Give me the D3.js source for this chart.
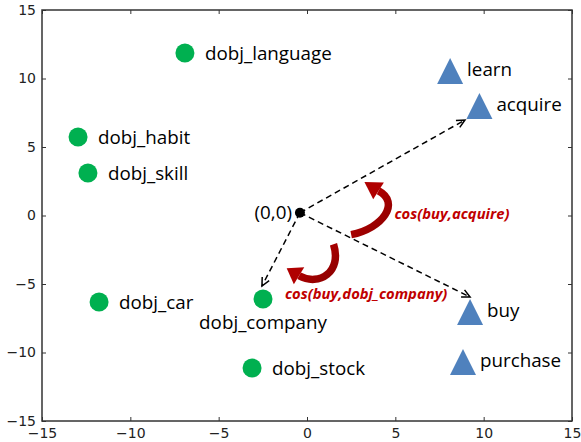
<!DOCTYPE html>
<html><head><meta charset="utf-8">
<script src="https://cdn.jsdelivr.net/npm/d3@7"></script>
<style>body{margin:0;background:#fff}svg{display:block}</style>
</head><body>
<svg id="c" width="581" height="442"></svg>
<script>
const xTicks = [-15,-10,-5,0,5,10,15];
const yTicks = [-15,-10,-5,0,5,10,15];
const circleWords = ["dobj_language","dobj_habit","dobj_skill","dobj_car","dobj_company","dobj_stock"];
const circleX = [-6.91,-12.96,-12.40,-11.77,-2.49,-3.11];
const circleY = [11.86,5.73,3.10,-6.31,-6.09,-11.13];
const triWords = ["learn","acquire","buy","purchase"];
const triX = [8.10,9.76,9.23,8.83];
const triY = [10.55,7.99,-7.04,-10.69];
const origin = [-0.40, 0.20];
const arrowTo = [[8.94,6.97],[9.23,-5.95],[-2.55,-5.15]];
const cosLabels = ["cos(buy,acquire)","cos(buy,dobj_company)"];
const cosPos = [[4.95,-0.22],[-1.25,-6.1]];
// curved red arrows in data units: tail, c1, c2, end, tip
const curves = [
  [[2.50,-1.40],[4.30,-0.95],[5.30,0.95],[4.05,1.80],[3.25,2.45]],
  [[1.50,-2.10],[2.00,-4.10],[0.70,-5.20],[-0.45,-4.40],[-1.15,-3.85]]
];

const svg = d3.select("#c");
const L=42,R=572,T=10,B=421;
const x = d3.scaleLinear().domain([-15,15]).range([L,R]);
const y = d3.scaleLinear().domain([-15,15]).range([B,T]);

const defs = svg.append("defs");
const grad = defs.append("linearGradient").attr("id","rg").attr("x1","0").attr("y1","0").attr("x2","1").attr("y2","1");
grad.append("stop").attr("offset","0").attr("stop-color","#c00000");
grad.append("stop").attr("offset","1").attr("stop-color","#8b0000");

// axes with inward ticks
const tickFont = "DejaVu Sans";
svg.append("g").attr("transform",`translate(0,${B})`)
  .call(d3.axisBottom(x).tickValues(xTicks).tickSize(-4).tickPadding(7).tickFormat(d=>d<0?"\u2212"+(-d):d))
  .call(g=>{g.select(".domain").remove();g.selectAll("text").attr("font-family",tickFont).attr("font-size",14).attr("fill","#222");g.selectAll("line").attr("stroke","#333");});
svg.append("g").attr("transform",`translate(0,${T})`)
  .call(d3.axisTop(x).tickValues(xTicks).tickSize(-4).tickFormat(""))
  .call(g=>{g.select(".domain").remove();g.selectAll("line").attr("stroke","#333");});
svg.append("g").attr("transform",`translate(${L},0)`)
  .call(d3.axisLeft(y).tickValues(yTicks).tickSize(-4).tickPadding(6).tickFormat(d=>d<0?"\u2212"+(-d):d))
  .call(g=>{g.select(".domain").remove();g.selectAll("text").attr("font-family",tickFont).attr("font-size",14).attr("fill","#222");g.selectAll("line").attr("stroke","#333");});
svg.append("g").attr("transform",`translate(${R},0)`)
  .call(d3.axisRight(y).tickValues(yTicks).tickSize(-4).tickFormat(""))
  .call(g=>{g.select(".domain").remove();g.selectAll("line").attr("stroke","#333");});
svg.append("rect").attr("x",L).attr("y",T).attr("width",R-L).attr("height",B-T)
  .attr("fill","none").attr("stroke","#333").attr("stroke-width",1.5);

const lblFont = "Open Sans";
const lblSize = 18.8;

// dashed arrows
arrowTo.forEach(p=>{
  const x0=x(origin[0]),y0=y(origin[1]),x1=x(p[0]),y1=y(p[1]);
  svg.append("line").attr("x1",x0).attr("y1",y0).attr("x2",x1).attr("y2",y1)
    .attr("stroke","#000").attr("stroke-width",1.5).attr("stroke-dasharray","6,4");
  const a=Math.atan2(y1-y0,x1-x0), h=9, w=0.45;
  const pa=[x1-h*Math.cos(a-w),y1-h*Math.sin(a-w)], pb=[x1-h*Math.cos(a+w),y1-h*Math.sin(a+w)];
  svg.append("path").attr("d",`M${pa}L${x1},${y1}L${pb}`).attr("fill","none").attr("stroke","#000").attr("stroke-width",1.5);
});

// origin
svg.append("circle").attr("cx",x(origin[0])).attr("cy",y(origin[1])).attr("r",5).attr("fill","#000");
svg.append("text").attr("x",x(origin[0])-8).attr("y",y(origin[1])+6).attr("text-anchor","end")
  .attr("font-family",lblFont).attr("font-size",lblSize).attr("fill","#000").text("(0,0)");

// curved red arrows
curves.forEach(c=>{
  const P=c.map(p=>[x(p[0]),y(p[1])]);
  svg.append("path").attr("d",`M${P[0]}C${P[1]} ${P[2]} ${P[3]}`).attr("fill","none")
    .attr("stroke","url(#rg)").attr("stroke-width",7.5);
  const e=P[3],t=P[4];
  const a=Math.atan2(t[1]-e[1],t[0]-e[0]);
  const hw=10;
  const b1=[e[0]+hw*Math.cos(a+Math.PI/2),e[1]+hw*Math.sin(a+Math.PI/2)];
  const b2=[e[0]-hw*Math.cos(a+Math.PI/2),e[1]-hw*Math.sin(a+Math.PI/2)];
  svg.append("path").attr("d",`M${b1}L${t}L${b2}Z`).attr("fill","#b00000");
});
cosLabels.forEach((t,i)=>{
  svg.append("text").attr("x",x(cosPos[i][0])).attr("y",y(cosPos[i][1]))
    .attr("font-family",lblFont).attr("font-size",14.8).attr("font-style","italic").attr("font-weight","bold")
    .attr("fill","#c00000").text(t);
});

// circles
circleWords.forEach((w,i)=>{
  const cx=x(circleX[i]), cy=y(circleY[i]);
  svg.append("circle").attr("cx",cx).attr("cy",cy).attr("r",9.5).attr("fill","#00b050");
  const t=svg.append("text").attr("font-family",lblFont).attr("font-size",lblSize).attr("fill","#000").text(w);
  if(w==="dobj_company") t.attr("x",cx).attr("y",cy+30).attr("text-anchor","middle");
  else t.attr("x",cx+20).attr("y",cy+7);
});

// triangles
triWords.forEach((w,i)=>{
  const cx=x(triX[i]), cy=y(triY[i]);
  svg.append("path").attr("d",`M${cx},${cy-13}L${cx+13},${cy+13}L${cx-13},${cy+13}Z`).attr("fill","#4f81bd");
  svg.append("text").attr("x",cx+17).attr("y",cy+5).attr("font-family",lblFont).attr("font-size",lblSize).attr("fill","#000").text(w);
});
</script>
</body></html>
